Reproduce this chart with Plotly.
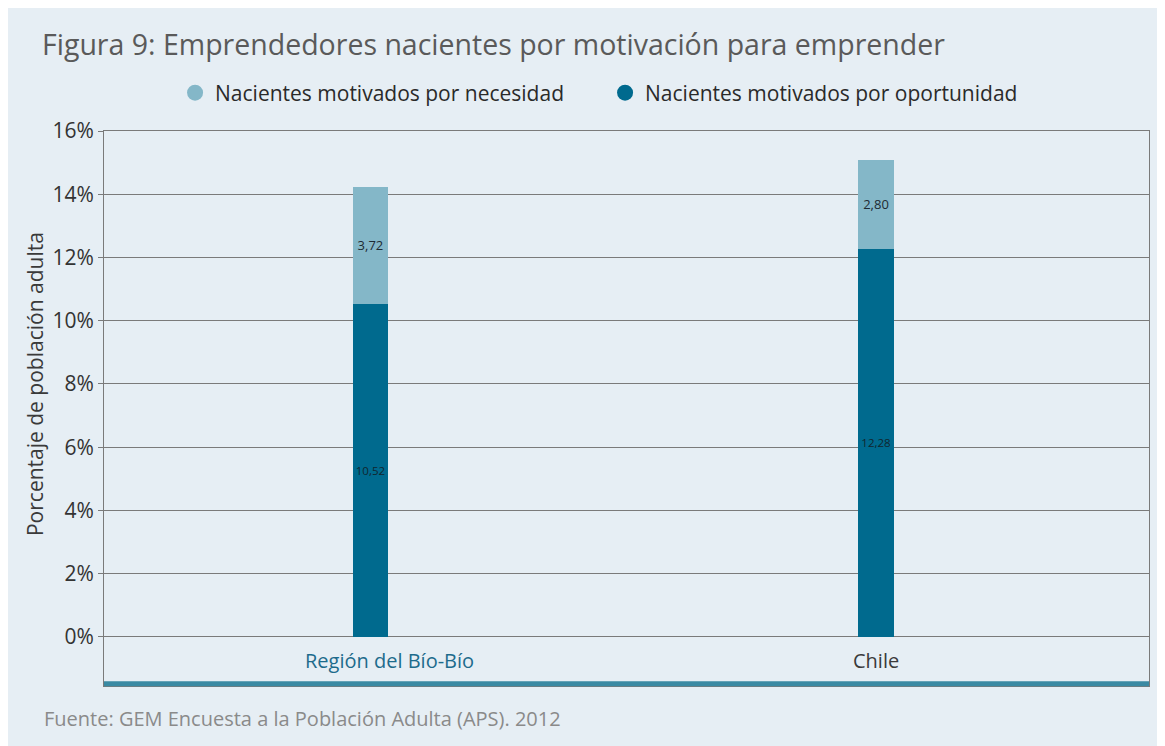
import plotly.graph_objects as go

categories = ["Región del Bío-Bío", "Chile"]
oportunidad = [10.52, 12.28]
necesidad = [3.72, 2.80]
oportunidad_labels = ["10,52", "12,28"]
necesidad_labels = ["3,72", "2,80"]
y_tickvals = [0, 2, 4, 6, 8, 10, 12, 14, 16]
y_ticktext = ["0%", "2%", "4%", "6%", "8%", "10%", "12%", "14%", "16%"]
category_colors = ["#1d6b8c", "#3a3a3a"]

DARK = "#006a8e"
LIGHT = "#84b7c8"
PANEL = "#e6eef4"
GRID = "#7a7a7a"
FONT = "Open Sans"

xs = [0, 1]
label_xshift = [19, 0]

fig = go.Figure()
fig.add_trace(go.Bar(
    x=xs, y=oportunidad, width=0.07, marker=dict(color=DARK, line=dict(width=0)),
    text=oportunidad_labels, textposition="inside", insidetextanchor="middle",
    textfont=dict(family=FONT, size=13, color="#10262f"), textangle=0,
    showlegend=False, hoverinfo="skip"))
fig.add_trace(go.Bar(
    x=xs, y=necesidad, width=0.07, marker=dict(color=LIGHT, line=dict(width=0)),
    text=necesidad_labels, textposition="inside", insidetextanchor="middle",
    textfont=dict(family=FONT, size=13, color="#1e2b33"), textangle=0,
    showlegend=False, hoverinfo="skip"))

# legend entries with circle markers
fig.add_trace(go.Scatter(x=[None], y=[None], mode="markers", name="Nacientes motivados por necesidad",
                         marker=dict(symbol="circle", size=17, color=LIGHT)))
fig.add_trace(go.Scatter(x=[None], y=[None], mode="markers", name="Nacientes motivados por oportunidad",
                         marker=dict(symbol="circle", size=17, color=DARK)))

for i, (c, col) in enumerate(zip(categories, category_colors)):
    fig.add_annotation(x=xs[i], y=-0.73, xref="x", yref="y", text=c, showarrow=False,
                       xshift=label_xshift[i],
                       font=dict(family=FONT, size=20, color=col), yanchor="middle")

# y-axis title
fig.add_annotation(x=-0.066, y=8, xref="paper", yref="y", text="Porcentaje de población adulta",
                   textangle=-90, showarrow=False, font=dict(family=FONT, size=21, color="#3a3a3a"),
                   xanchor="center", yanchor="middle")
# footnote
fig.add_annotation(x=-0.0593, y=-0.0577, xref="paper", yref="paper",
                   text="Fuente: GEM Encuesta a la Población Adulta (APS). 2012",
                   showarrow=False, xanchor="left", yanchor="middle",
                   font=dict(family=FONT, size=20, color="#8a8a8a"))

# bottom thick line
fig.add_shape(type="line", xref="paper", yref="paper", x0=0, x1=1, y0=0.004, y1=0.004,
              line=dict(color="#3a8aa3", width=5))

fig.update_layout(
    width=1165, height=746,
    margin=dict(l=96, r=24, t=123, b=68),
    paper_bgcolor=PANEL, plot_bgcolor=PANEL,
    barmode="stack",
    title=dict(text="Figura 9: Emprendedores nacientes por motivación para emprender",
               x=0.0292, xanchor="left", y=0.9504, yanchor="middle",
               font=dict(family=FONT, size=28.5, color="#5a5a5a")),
    legend=dict(orientation="h", x=0.068, xanchor="left", y=1.0685, yanchor="middle",
                traceorder="normal",
                font=dict(family=FONT, size=21, color="#2a2a2a"),
                entrywidth=385, entrywidthmode="pixels", bgcolor="rgba(0,0,0,0)",
                itemsizing="trace"),
    xaxis=dict(range=[-0.527, 1.540], showticklabels=False, showgrid=False, zeroline=False,
               showline=True, mirror=True, linecolor=GRID, linewidth=1, ticks=""),
    yaxis=dict(range=[-1.55, 16], tickvals=y_tickvals, ticktext=y_ticktext,
               showgrid=True, gridcolor=GRID, gridwidth=1, zeroline=False,
               showline=True, linecolor=GRID, linewidth=1, mirror=True,
               ticks="outside", ticklen=5, tickcolor=GRID,
               tickfont=dict(family=FONT, size=21, color="#333333")),
    font=dict(family=FONT),
)

fig.write_html("out.html")
